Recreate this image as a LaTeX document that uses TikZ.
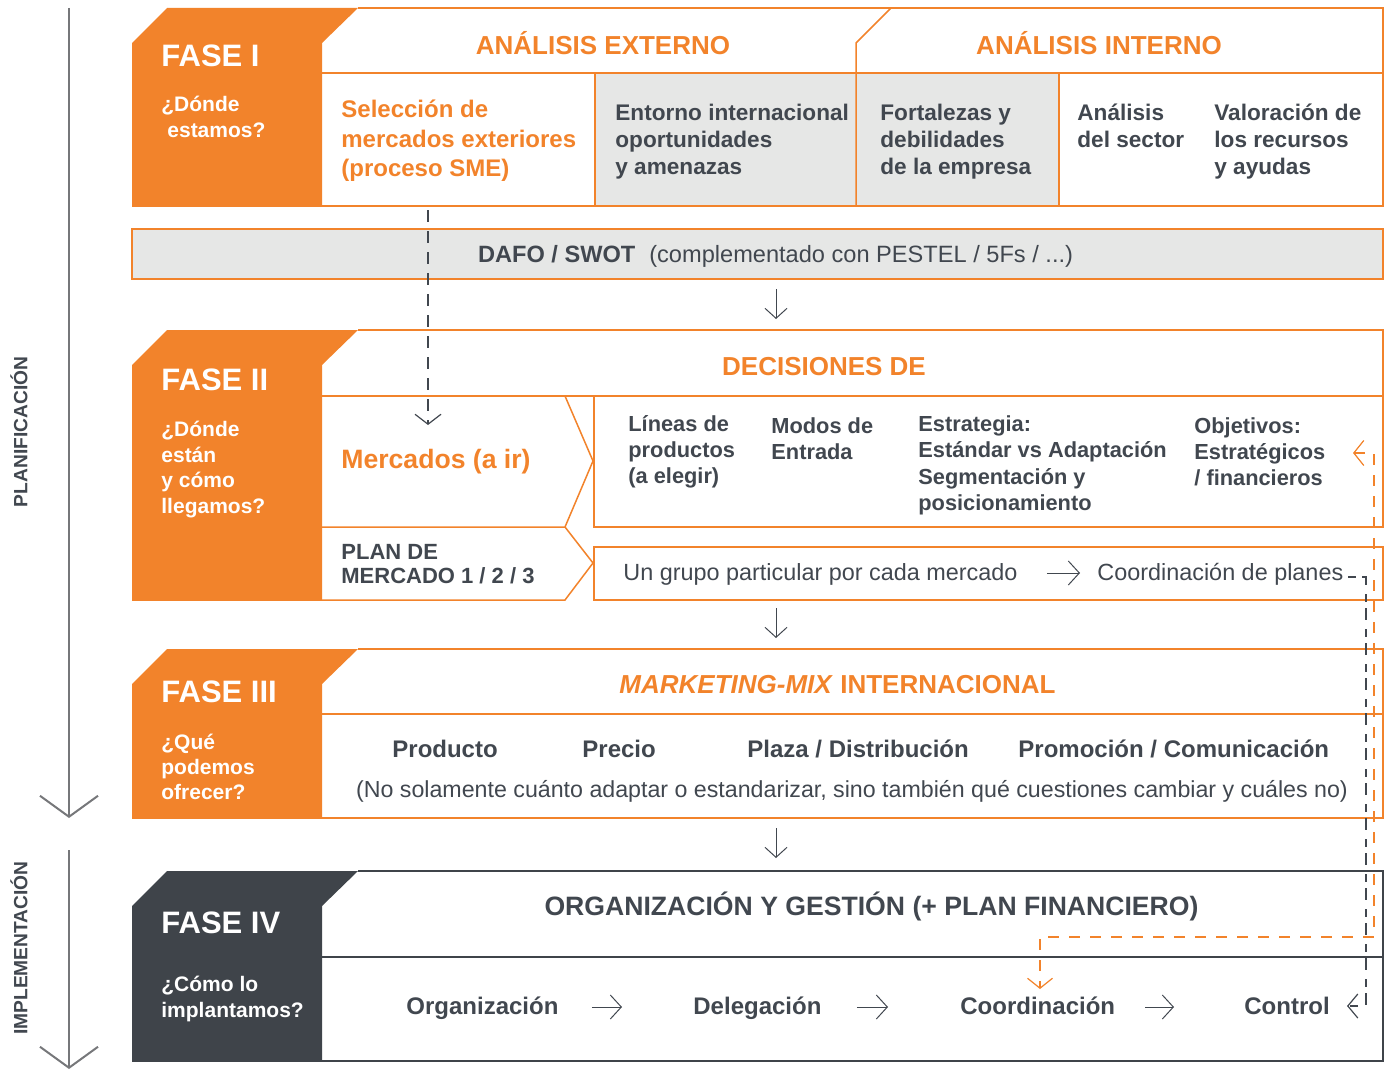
\documentclass[tikz,border=0pt]{standalone}
\usepackage{fontspec}
\setmainfont{Liberation Sans}
\usetikzlibrary{arrows.meta}
\definecolor{naranja}{HTML}{F2832B}
\definecolor{gristxt}{HTML}{41474F}
\definecolor{grisfondo}{HTML}{E6E7E6}
\definecolor{grisfase}{HTML}{3F444A}
\definecolor{grislinea}{HTML}{76777A}
\begin{document}
\begin{tikzpicture}[x=0.5pt, y=-0.5pt,
    every node/.style={inner sep=0pt, text=gristxt, align=left},
    box/.style={draw=naranja, line width=0.75pt},
    boxiv/.style={draw=grisfase, line width=0.75pt},
    fasetxt/.style={anchor=west, text=white, font=\fontsize{15.5}{18}\selectfont\bfseries},
    pregunta/.style={anchor=west, text=white, font=\fontsize{10.5}{12.6}\selectfont\bfseries},
    titulo/.style={text=naranja, font=\fontsize{13}{15}\selectfont\bfseries},
    celda/.style={anchor=west, font=\fontsize{11.3}{13.4}\selectfont\bfseries},
    decision/.style={anchor=west, font=\fontsize{10.9}{13.15}\selectfont\bfseries},
    fila/.style={anchor=west, text height=0.9em, text depth=0.18em, font=\fontsize{12}{14}\selectfont\bfseries},
    etapa/.style={rotate=90, font=\fontsize{9.6}{11}\selectfont\bfseries},
    flecha/.style={draw=gristxt, line width=0.5pt, -{Straight Barb[length=5pt,width=11pt]}},
    guion/.style={line width=0.6pt, dash pattern=on 6pt off 4.5pt},
    lado/.style={draw=grislinea, line width=1pt, -{Straight Barb[length=10.5pt,width=29pt]}}]
  \useasboundingbox (0,0) rectangle (1391,1070);

  % planificacion / implementacion
  \draw[lado] (69,8) -- (69,818);
  \draw[lado] (69,850) -- (69,1069);
  \node[etapa] (plan) at (19,432) {PLANIFICACIÓN};
  \node[etapa] (impl) at (19,948) {IMPLEMENTACIÓN};

  % fase I
  \fill[naranja] (132,43) -- (167,8) -- (358,8) -- (322,43) -- (322,206) -- (132,206) -- cycle;
  \fill[grisfondo] (595,73) rectangle (1059,206);
  \draw[box] (358,8) -- (1383,8) -- (1383,206) -- (132,206);
  \draw[box] (322,73) -- (1383,73) (595,73) -- (595,206) (1059,73) -- (1059,206);
  \draw[box] (856,206) -- (856,43) -- (891,8);
  \node[fasetxt] (f1) at (161,56) {FASE I};
  \node[pregunta] (q1) at (161,117) {¿Dónde\\\hspace{3pt}estamos?};
  \node[titulo] (ext) at (603,43) {ANÁLISIS EXTERNO};
  \node[titulo] (int) at (1099,43) {ANÁLISIS INTERNO};
  \node[celda, text=naranja, font=\fontsize{12}{14.8}\selectfont\bfseries] (sel) at (341,141) {Selección de\\mercados exteriores\\(proceso SME)};
  \node[celda] (ent) at (615,141.5) {Entorno internacional\\oportunidades\\y amenazas};
  \node[celda] (fort) at (880,141.5) {Fortalezas y\\debilidades\\de la empresa};
  \node[celda] (sect) at (1077,125.5) {Análisis\\del sector};
  \node[celda] (val) at (1214,141.5) {Valoración de\\los recursos\\y ayudas};

  % dafo
  \draw[box, fill=grisfondo] (132,229) rectangle (1383,279);
  \node[font=\fontsize{11.8}{14}\selectfont] (dafo) at (775.5,256) {\textbf{DAFO / SWOT}\hspace{7pt}(complementado con PESTEL / 5Fs / ...)};
  \coordinate (d1) at (776,289);
  \coordinate (d2) at (776,319);
  \draw[flecha] (d1) -- (d2);

  % fase II
  \fill[naranja] (132,365) -- (167,330) -- (358,330) -- (322,365) -- (322,600) -- (132,600) -- cycle;
  \draw[box] (358,330) -- (1383,330) -- (1383,396) -- (322,396);
  \draw[box] (322,527) -- (565,527) -- (593,461) -- (565,396);
  \draw[box] (132,600) -- (565,600) -- (593,563) -- (565,527);
  \draw[box] (594,396) rectangle (1383,527);
  \draw[box] (594,547) rectangle (1383,600);
  \node[fasetxt] (f2) at (161,380) {FASE II};
  \node[pregunta, font=\fontsize{10.5}{12.75}\selectfont\bfseries] (q2) at (161,469.5) {¿Dónde\\están\\y cómo\\llegamos?};
  \node[titulo] (dec) at (824,367) {DECISIONES DE};
  \node[fila, text=naranja, font=\fontsize{13.3}{15}\selectfont\bfseries] (merc) at (341,461) {Mercados (a ir)};
  \node[celda, font=\fontsize{11}{12}\selectfont\bfseries] (pm) at (341,564) {PLAN DE\\MERCADO 1 / 2 / 3};
  \node[decision] (lin) at (628,452) {Líneas de\\productos\\(a elegir)};
  \node[decision] (mod) at (771,439) {Modos de\\Entrada};
  \node[decision] (est) at (918,465.5) {Estrategia:\\Estándar vs Adaptación\\Segmentación y\\posicionamiento};
  \node[decision] (obj) at (1194,452) {Objetivos:\\Estratégicos\\/ financieros};
  \node[fila, font=\fontsize{11.7}{14}\selectfont] (grupo) at (623,573) {Un grupo particular por cada mercado};
  \node[fila, font=\fontsize{11.7}{14}\selectfont] (coord) at (1097,573) {Coordinación de planes};
  \draw[flecha, -{Straight Barb[length=5.5pt,width=12pt]}, shorten <=14.5pt, shorten >=8.5pt] (grupo) -- (coord);
  \coordinate (s1) at (428,210);
  \coordinate (s2) at (428,425);
  \draw[flecha, guion, -{Straight Barb[length=5pt,width=13pt]}] (s1) -- (s2);
  \coordinate (d3) at (776,608);
  \coordinate (d4) at (776,638);
  \draw[flecha] (d3) -- (d4);

  % fase III
  \fill[naranja] (132,684) -- (167,649) -- (358,649) -- (322,684) -- (322,818) -- (132,818) -- cycle;
  \draw[box] (358,649) -- (1383,649) -- (1383,818) -- (132,818);
  \draw[box] (322,714) -- (1383,714);
  \node[fasetxt] (f3) at (161,692) {FASE III};
  \node[pregunta] (q3) at (161,767) {¿Qué\\podemos\\ofrecer?};
  \node[titulo] (mix) at (837.5,685) {\textit{MARKETING-MIX} INTERNACIONAL};
  \node[fila] (prod) at (392,750) {Producto};
  \node[fila] (prec) at (582,750) {Precio};
  \node[fila] (plaza) at (747,750) {Plaza / Distribución};
  \node[fila] (prom) at (1018,750) {Promoción / Comunicación};
  \node[font=\fontsize{11.6}{14}\selectfont] (nota) at (852,791) {(No solamente cuánto adaptar o estandarizar, sino también qué cuestiones cambiar y cuáles no)};
  \coordinate (d5) at (776,828);
  \coordinate (d6) at (776,858);
  \draw[flecha] (d5) -- (d6);

  % fase IV
  \fill[grisfase] (132,906) -- (167,871) -- (358,871) -- (322,906) -- (322,1061) -- (132,1061) -- cycle;
  \draw[boxiv] (358,871) -- (1383,871) -- (1383,1061) -- (132,1061);
  \draw[boxiv] (322,957) -- (1383,957);
  \node[fasetxt] (f4) at (161,923) {FASE IV};
  \node[pregunta] (q4) at (161,999) {¿Cómo lo\\implantamos?};
  \node[font=\fontsize{13.3}{15}\selectfont\bfseries] (org4) at (871.5,906) {ORGANIZACIÓN Y GESTIÓN (+ PLAN FINANCIERO)};
  \node[fila] (org) at (406,1007) {Organización};
  \node[fila] (del) at (693,1007) {Delegación};
  \node[fila] (coo) at (960,1007) {Coordinación};
  \node[fila] (ctl) at (1244,1007) {Control};
  \draw[flecha, -{Straight Barb[length=5.5pt,width=12pt]}, shorten <=16.5pt, shorten >=35.5pt] (org) -- (del);
  \draw[flecha, -{Straight Barb[length=5.5pt,width=12pt]}, shorten <=17.5pt, shorten >=36pt] (del) -- (coo);
  \draw[flecha, -{Straight Barb[length=5.5pt,width=12pt]}, shorten <=15pt, shorten >=35pt] (coo) -- (ctl);

  % retroalimentacion
  \coordinate (o1) at (1353,453);
  \coordinate (o2) at (1040,989);
  \draw[flecha, guion, draw=naranja, dash pattern=on 5.5pt off 5pt, {Straight Barb[length=5pt,width=12.5pt]}-{Straight Barb[length=5pt,width=12.5pt]}] (o1) -- (1374,453) |- (1040,937) -- (o2);
  \coordinate (c1) at (1348,577);
  \coordinate (c2) at (1347,1006);
  \draw[flecha, guion, dash pattern=on 4pt off 3pt on 6pt off 4.5pt, -{Straight Barb[length=5pt,width=12pt]}] (c1) -- (1366,577) -- (1366,1006) -- (c2);
\end{tikzpicture}
\end{document}
